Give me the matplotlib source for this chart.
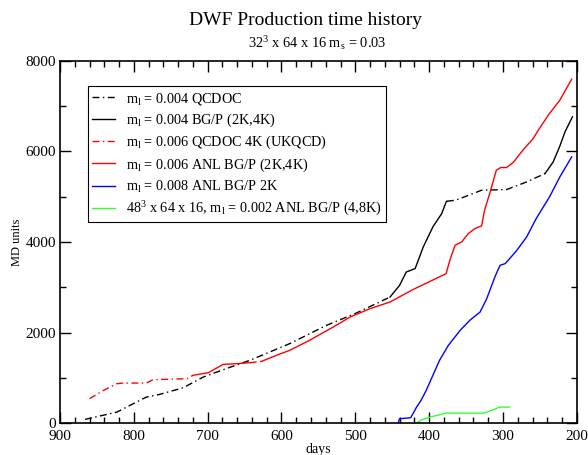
import matplotlib
matplotlib.use("Agg")
import matplotlib.pyplot as plt
from matplotlib.ticker import MultipleLocator

plt.rcParams['font.family'] = ['Liberation Serif', 'DejaVu Serif']
plt.rcParams['mathtext.fontset'] = 'custom'
plt.rcParams['mathtext.rm'] = 'Liberation Serif'
plt.rcParams['mathtext.it'] = 'Liberation Serif:italic'

# ---- data (days, MD units) ----
# m_l = 0.004 QCDOC (dash-dot, black), part 1
qcdoc004_a_days = [866, 823, 783, 765, 733, 706, 679, 643, 589, 539, 500, 453]
qcdoc004_a_md = [80, 241, 573, 632, 780, 1015, 1178, 1384, 1753, 2158, 2420, 2784]
# m_l = 0.004 BG/P (solid, black), part 1
bgp004_a_days = [453, 440, 431, 419, 408, 395, 383, 377, 376]
bgp004_a_md = [2784, 3043, 3337, 3412, 3890, 4332, 4628, 4885, 4900]
# m_l = 0.004 QCDOC, part 2
qcdoc004_b_days = [376, 365, 358, 329, 295, 268, 243]
qcdoc004_b_md = [4900, 4922, 4960, 5144, 5159, 5327, 5513]
# m_l = 0.004 BG/P, part 2
bgp004_b_days = [243, 232, 223, 216, 206]
bgp004_b_md = [5513, 5770, 6120, 6433, 6765]

# m_l = 0.006 QCDOC 4K (UKQCD) (dash-dot, red)
qcdoc006_days = [860, 841, 823, 814, 783, 774, 760, 728, 720]
qcdoc006_md = [537, 721, 869, 883, 883, 957, 964, 980, 1053]
qcdoc006_b_days = [643, 636, 627]
qcdoc006_b_md = [1333, 1345, 1362]
# m_l = 0.006 ANL BG/P (2K,4K) (solid, red)
anl006_a_days = [720, 699, 679, 661, 643]
anl006_a_md = [1053, 1112, 1296, 1311, 1333]
anl006_b_days = [627, 607, 589, 562, 530, 507, 480, 453, 422, 377, 372, 365,
                 356, 347, 338, 329, 325, 318, 309, 303, 295, 286, 273, 259,
                 253, 237, 223, 207]
anl006_b_md = [1362, 1495, 1605, 1827, 2121, 2342, 2528, 2674, 2948, 3301,
               3596, 3927, 4001, 4186, 4297, 4355, 4701, 5071, 5586, 5646,
               5646, 5760, 6030, 6287, 6450, 6840, 7134, 7598]

# m_l = 0.008 ANL BG/P 2K (blue)
anl008_days = [442, 440, 425, 417, 411, 404, 399, 386, 374, 358, 345, 331,
               322, 311, 304, 297, 282, 268, 255, 237, 223, 207]
anl008_md = [0, 95, 117, 352, 500, 721, 904, 1384, 1716, 2048, 2269, 2453,
             2749, 3227, 3485, 3522, 3800, 4111, 4518, 4996, 5438, 5880]

# 48^3 x 64 x 16, m_l = 0.002 ANL BG/P (4,8K) (green)
anl002_days = [417, 410, 395, 377, 325, 304, 291]
anl002_md = [0, 73, 146, 219, 219, 352, 352]

labels = [r"m$_\mathrm{l}$ = 0.004 QCDOC",
          r"m$_\mathrm{l}$ = 0.004 BG/P (2K,4K)",
          r"m$_\mathrm{l}$ = 0.006 QCDOC 4K (UKQCD)",
          r"m$_\mathrm{l}$ = 0.006 ANL BG/P (2K,4K)",
          r"m$_\mathrm{l}$ = 0.008 ANL BG/P 2K",
          r"48$^3$ x 64 x 16, m$_\mathrm{l}$ = 0.002 ANL BG/P (4,8K)"]

dashdot = (0, (5, 2.5, 1, 2.5))
lw = 1.0

fig = plt.figure(figsize=(5.88, 4.55), dpi=100)
ax = fig.add_axes([0.102, 0.0703, 0.879, 0.7957])

ax.plot(qcdoc004_a_days, qcdoc004_a_md, color='black', ls=dashdot, lw=lw, label=labels[0])
ax.plot(bgp004_a_days, bgp004_a_md, color='black', ls='-', lw=lw, label=labels[1])
ax.plot(qcdoc004_b_days, qcdoc004_b_md, color='black', ls=dashdot, lw=lw)
ax.plot(bgp004_b_days, bgp004_b_md, color='black', ls='-', lw=lw)

ax.plot(qcdoc006_days, qcdoc006_md, color='red', ls=dashdot, lw=lw, label=labels[2])
ax.plot(anl006_a_days, anl006_a_md, color='red', ls='-', lw=lw, label=labels[3])
ax.plot(qcdoc006_b_days, qcdoc006_b_md, color='red', ls=dashdot, lw=lw)
ax.plot(anl006_b_days, anl006_b_md, color='red', ls='-', lw=lw)

ax.plot(anl008_days, anl008_md, color='#0000ff', ls='-', lw=lw, label=labels[4])
ax.plot(anl002_days, anl002_md, color='#33ff33', ls='-', lw=lw, label=labels[5])

ax.set_xlim(900, 200)
ax.set_ylim(0, 8000)
ax.xaxis.set_major_locator(MultipleLocator(100))
ax.xaxis.set_minor_locator(MultipleLocator(20))
ax.yaxis.set_major_locator(MultipleLocator(2000))
ax.yaxis.set_minor_locator(MultipleLocator(1000))
ax.tick_params(which='both', direction='in', top=True, right=True, labelsize=11,
               width=1.0)
ax.tick_params(axis='x', pad=5)
ax.tick_params(axis='y', pad=3)
ax.tick_params(which='major', length=8)
ax.tick_params(which='minor', length=4)
for s in ax.spines.values():
    s.set_linewidth(1.2)

ax.set_xlabel("days", fontsize=10, labelpad=0)
ax.set_ylabel("MD units", fontsize=9, labelpad=2)

leg = ax.legend(loc='upper left', bbox_to_anchor=(0.054, 0.93), fontsize=10.3,
                frameon=True, fancybox=False, framealpha=1, edgecolor='black',
                handlelength=1.6, handletextpad=0.75, labelspacing=0.35,
                borderpad=0.3, borderaxespad=0)
leg.get_frame().set_linewidth(0.8)

fig.text(0.52, 0.955, "DWF Production time history", ha='center', va='center', fontsize=14)
fig.text(0.54, 0.905, r"32$^3$ x 64 x 16 m$_\mathrm{s}$ = 0.03", ha='center', va='center', fontsize=10.4)

fig.savefig("out.png", dpi=100)
